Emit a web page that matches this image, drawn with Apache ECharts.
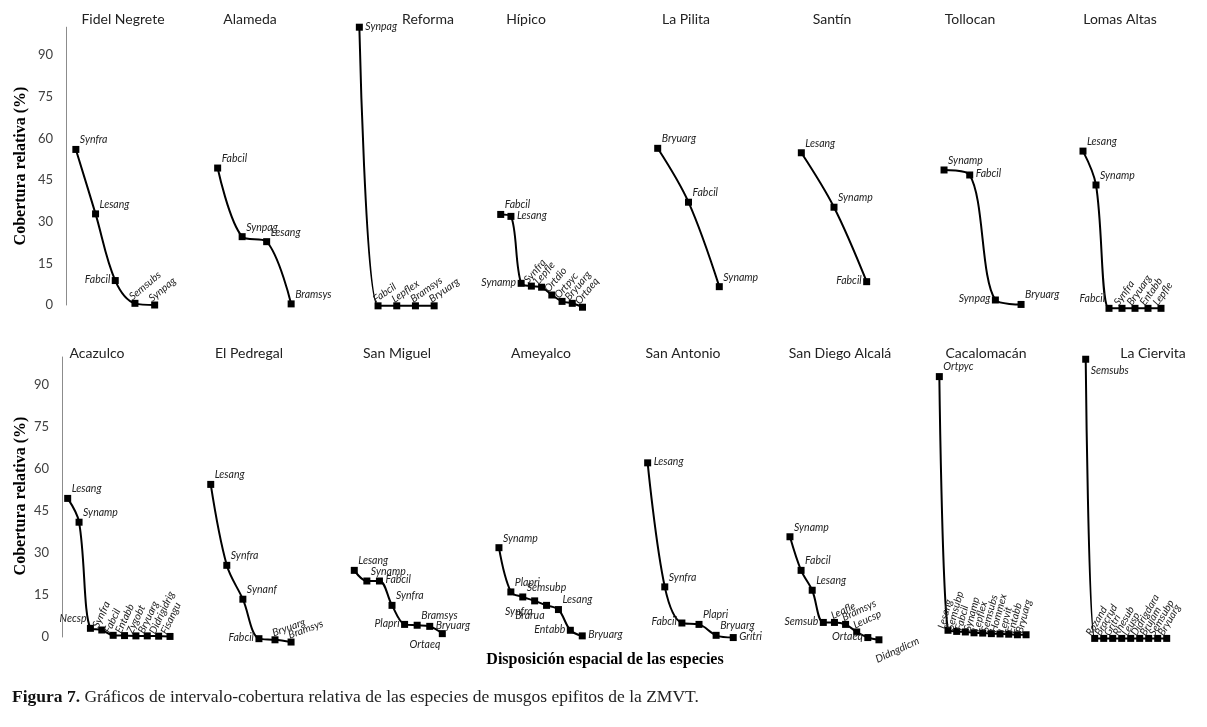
<!DOCTYPE html>
<html><head><meta charset="utf-8">
<script src="https://cdn.jsdelivr.net/npm/echarts@6/dist/echarts.min.js"></script>
<style>html,body{margin:0;padding:0;background:#fff}#c{width:1207px;height:727px}</style>
</head><body><div id="c"></div>
<script>
// ---------- DATA ----------
const panelTitles = ['Fidel Negrete','Alameda','Reforma','Hípico','La Pilita','Santín','Tollocan','Lomas Altas',
  'Acazulco','El Pedregal','San Miguel','Ameyalco','San Antonio','San Diego Alcalá','Cacalomacán','La Ciervita'];
const yTickStep = 15;

const fidelNegreteSpecies = ['Synfra','Lesang','Fabcil','Semsubs','Synpag'];
const fidelNegreteCover   = [56, 32.8, 8.8, 0.6, 0];
const alamedaSpecies = ['Fabcil','Synpag','Lesang','Bramsys'];
const alamedaCover   = [49.3, 24.6, 22.8, 0.4];
const reformaSpecies = ['Synpag','Fabcil','Lepflex','Bramsys','Bryuarg'];
const reformaCover   = [100, -0.3, -0.3, -0.3, -0.3];
const hipicoSpecies = ['Fabcil','Lesang','Synamp','Synfra','Lepfle','Ortdio','Ortpyc','Bryuarg','Ortaeq'];
const hipicoCover   = [32.6, 31.9, 7.8, 6.8, 6.4, 3.6, 1.3, 0.6, -0.8];
const laPilitaSpecies = ['Bryuarg','Fabcil','Synamp'];
const laPilitaCover   = [56.4, 37, 6.6];
const santinSpecies = ['Lesang','Synamp','Fabcil'];
const santinCover   = [54.8, 35.2, 8.4];
const tollocanSpecies = ['Synamp','Fabcil','Synpag','Bryuarg'];
const tollocanCover   = [48.6, 46.8, 1.8, 0.2];
const lomasAltasSpecies = ['Lesang','Synamp','Fabcil','Synfra','Bryuarg','Entabb','Lepfle'];
const lomasAltasCover   = [55.4, 43.2, -1.2, -1.2, -1.2, -1.2, -1.2];
const acazulcoSpecies = ['Lesang','Synamp','Necsp','Synfra','Fabcil','Entabb','Zygobt','Bryuarg','Didrigidrig','Fisangu'];
const acazulcoCover   = [49.5, 41, 3.1, 2.5, 0.6, 0.5, 0.4, 0.4, 0.3, 0.2];
const elPedregalSpecies = ['Lesang','Synfra','Synanf','Fabcil','Bryuarg','Bramsys'];
const elPedregalCover   = [54.5, 25.6, 13.5, -0.6, -1, -1.8];
const sanMiguelSpecies = ['Lesang','Synamp','Fabcil','Synfra','Plapri','Bramsys','Bryuarg','Ortaeq'];
const sanMiguelCover   = [23.8, 20, 20, 11.3, 4.5, 4.2, 3.8, 1.2];
const ameyalcoSpecies = ['Synamp','Plapri','Semsubp','Synfra','Brarua','Lesang','Entabb','Bryuarg'];
const ameyalcoCover   = [31.9, 16.1, 14.3, 12.9, 11.3, 9.8, 2.4, 0.4];
const sanAntonioSpecies = ['Lesang','Synfra','Fabcil','Plapri','Bryuarg','Gritri'];
const sanAntonioCover   = [62.2, 17.9, 5, 4.5, 0.6, -0.2];
const sanDiegoSpecies = ['Synamp','Fabcil','Lesang','Semsub','Leafle','Bramsys','Leucsp','Ortaeq','Didngdicm'];
const sanDiegoCover   = [35.8, 23.8, 16.7, 5.2, 5.2, 4.5, 1.8, -0.2, -1];
const cacalomacanSpecies = ['Ortpyc','Lesang','Semsubp','Fabcil','Synamp','Lepflex','Semsubs','Hommex','Lepvit','Entabb','Bryuarg'];
const cacalomacanCover   = [93, 2.4, 2.0, 1.8, 1.5, 1.4, 1.2, 1.1, 1.0, 0.8, 0.8];
const laCiervitaSpecies = ['Semsubs','Rozand','Bracrud','Gritri','Rhesub','Leusp','Didrigdara','Brujam','Semsubp','Bryuarg'];
const laCiervitaCover   = [99.2, -0.5, -0.5, -0.5, -0.5, -0.5, -0.5, -0.5, -0.5, -0.5];

const panelSpecies = [fidelNegreteSpecies, alamedaSpecies, reformaSpecies, hipicoSpecies, laPilitaSpecies, santinSpecies, tollocanSpecies, lomasAltasSpecies,
  acazulcoSpecies, elPedregalSpecies, sanMiguelSpecies, ameyalcoSpecies, sanAntonioSpecies, sanDiegoSpecies, cacalomacanSpecies, laCiervitaSpecies];
const panelCover = [fidelNegreteCover, alamedaCover, reformaCover, hipicoCover, laPilitaCover, santinCover, tollocanCover, lomasAltasCover,
  acazulcoCover, elPedregalCover, sanMiguelCover, ameyalcoCover, sanAntonioCover, sanDiegoCover, cacalomacanCover, laCiervitaCover];

// ---------- LAYOUT / STYLE (not data) ----------
const gridLeft  = [66, 205.4, 350, 495.6, 642.3, 785, 931.2, 1076.5, 62, 202.7, 348, 493, 639.1, 784.4, 935, 1081.2];
const gridWidth = [98.5, 98, 93.5, 92, 92.4, 98, 102.7, 91, 113.7, 96.4, 100.6, 95.2, 102.7, 100.1, 95.4, 90];
const titleX = [123, 250, 428, 526, 686, 832, 970, 1120, 97, 249, 397, 541, 683, 840, 986, 1153];
const rowTop = [27.2, 357], rowHeight = [277.8, 280], titleY = [19, 353];

const labelSpecs = [
  ['ur','ur','l',40,40],
  ['ur','ur','ur','ur'],
  ['r',35,35,35,35],
  ['ur','r','l',50,50,50,50,50,50],
  ['ur','ur','ur'],
  ['ur','ur','l'],
  ['ur','r','l','ur'],
  ['ur','ur','ul',55,55,55,55],
  ['ur','ur','ul',65,65,65,65,65,65,65],
  ['ur','ur','ur','l',20,20],
  ['ur','ur','r','ur','l','ur','r','bl'],
  ['ur','ur','ur','bl','bl','ur','l','r'],
  ['r','ur','l','ur','ur','r'],
  ['ur','ur','ur','l',25,25,25,'l',{rot:25,dx:-11,dy:17}],
  ['ur',75,75,75,75,75,75,75,75,75,75],
  ['br',60,60,60,60,60,60,60,60,60]
];

function labelFor(spec) {
  const base = {show:true, formatter:'{b}', position:'inside', fontFamily:'Lato', fontStyle:'italic', fontSize:10.5, color:'#222'};
  if (typeof spec === 'number') return Object.assign(base, {rotate:spec, offset:[0,-7], align:'left', verticalAlign:'middle'});
  if (typeof spec === 'object') return Object.assign(base, {rotate:spec.rot, offset:[spec.dx,spec.dy], align:'left', verticalAlign:'middle'});
  const m = {
    ur:{offset:[4,-4], align:'left', verticalAlign:'bottom'},
    r: {offset:[6,-1], align:'left', verticalAlign:'middle'},
    l: {offset:[-5,-1], align:'right', verticalAlign:'middle'},
    ul:{offset:[-4,-4], align:'right', verticalAlign:'bottom'},
    bl:{offset:[-2,5], align:'right', verticalAlign:'top'},
    br:{offset:[5,6], align:'left', verticalAlign:'top'}
  }[spec];
  return Object.assign(base, m);
}

const grids = [], xAxes = [], yAxes = [], series = [], graphics = [];
panelTitles.forEach((name, i) => {
  const row = i < 8 ? 0 : 1;
  const first = (i === 0 || i === 8);
  grids.push({left: gridLeft[i], width: gridWidth[i], top: rowTop[row], height: rowHeight[row], containLabel:false});
  xAxes.push({type:'category', gridIndex:i, data: panelSpecies[i], boundaryGap:true, show:false});
  yAxes.push({type:'value', gridIndex:i, min:0, max:100, interval:yTickStep, show:first,
    axisLine:{show:true, lineStyle:{color:'#8c8c8c', width:1}}, axisTick:{show:false}, splitLine:{show:false},
    axisLabel:{show:true, showMaxLabel:false, margin:13, fontFamily:'Lato', fontSize:13, color:'#404040'}});
  series.push({type:'line', xAxisIndex:i, yAxisIndex:i, smooth:0.35, clip:false, animation:false, showAllSymbol:true,
    symbol:'rect', symbolSize:7, itemStyle:{color:'#000'}, lineStyle:{color:'#000', width:2},
    data: panelCover[i].map((v, k) => ({value:v, label: labelFor(labelSpecs[i][k])}))});
  graphics.push({type:'text', x:titleX[i], y:titleY[row], style:{text:name, align:'center', verticalAlign:'middle',
    font:'14px Lato', fill:'#222'}});
});
['Cobertura relativa (%)','Cobertura relativa (%)'].forEach((t, r) => {
  graphics.push({type:'text', x:21, y: r ? 496 : 166, rotation: Math.PI/2,
    style:{text:t, align:'center', verticalAlign:'middle', font:'bold 16px "Liberation Serif"', fill:'#000'}});
});
graphics.push({type:'text', x:605, y:660, style:{text:'Disposición espacial de las especies', align:'center', verticalAlign:'middle',
  font:'bold 16px "Liberation Serif"', fill:'#000'}});
graphics.push({type:'text', x:12, y:697, style:{text:'{b|Figura 7.} Gráficos de intervalo-cobertura relativa de las especies de musgos epifitos de la ZMVT.',
  verticalAlign:'middle', font:'17.5px "Liberation Serif"', fill:'#222',
  rich:{b:{fontWeight:'bold', fontFamily:'Liberation Serif', fontSize:17.5, fill:'#111'}}}});

const chart = echarts.init(document.getElementById('c'), null, {renderer:'canvas'});
chart.setOption({animation:false, backgroundColor:'#fff', grid:grids, xAxis:xAxes, yAxis:yAxes, series:series, graphic:graphics});
</script></body></html>
